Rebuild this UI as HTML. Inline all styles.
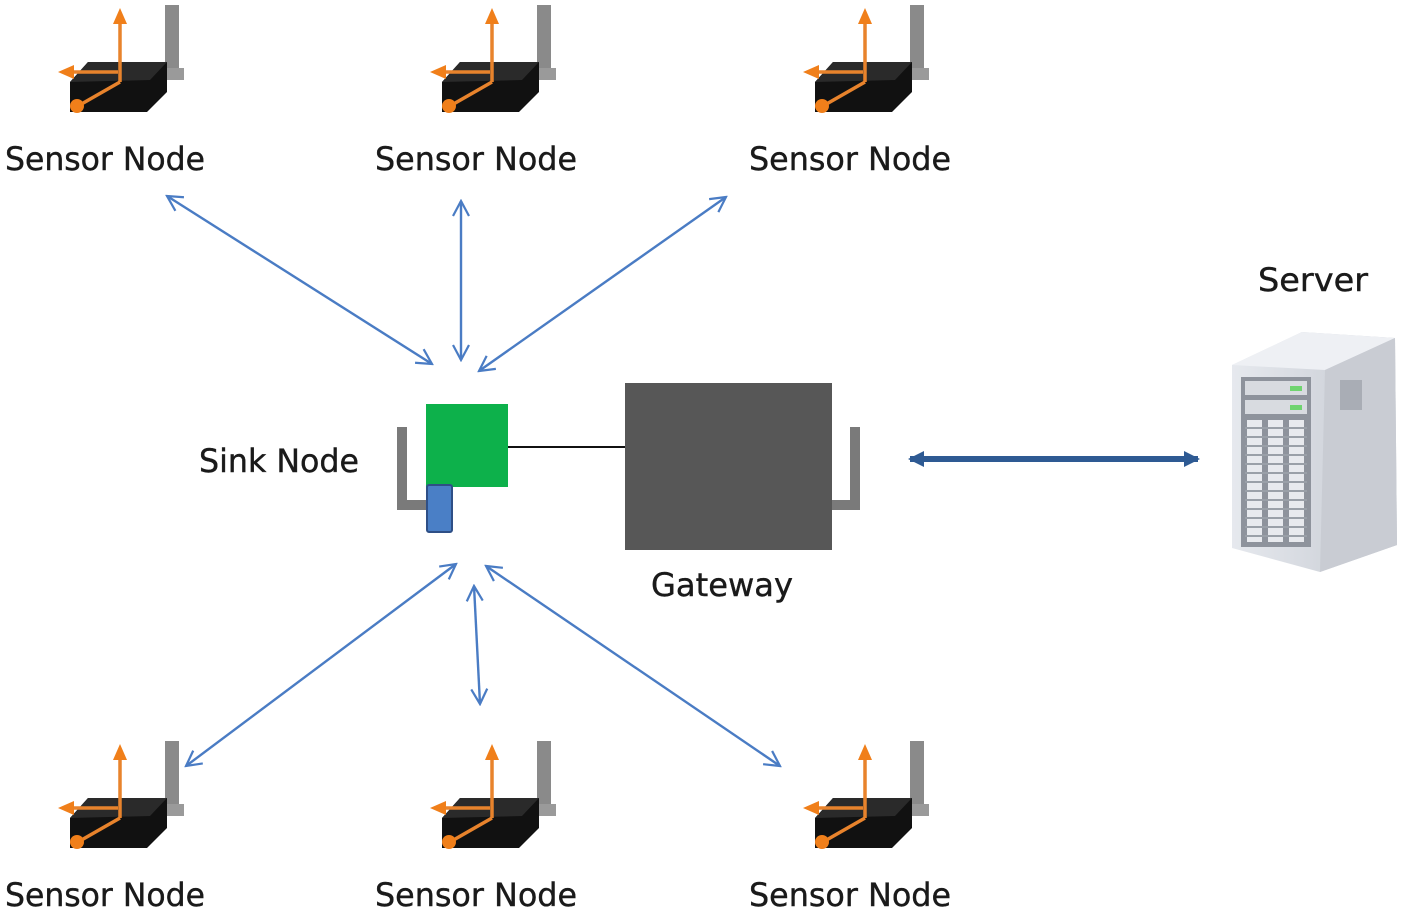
<!DOCTYPE html>
<html><head><meta charset="utf-8"><style>
html,body{margin:0;padding:0;background:#fff;}
svg{display:block;}
text{font-family:"DejaVu Sans","Liberation Sans",sans-serif;fill:#1a1a1a;stroke:#1a1a1a;stroke-width:0.4;}
</style></head><body>
<svg width="1418" height="911" viewBox="0 0 1418 911" xmlns="http://www.w3.org/2000/svg">
<defs>
<marker id="ab" markerWidth="18" markerHeight="18" refX="16" refY="9" orient="auto-start-reverse" markerUnits="userSpaceOnUse">
<path d="M1,1 L16,9 L1,17" fill="none" stroke="#4a7cc4" stroke-width="2.2"/>
</marker>
<marker id="ab2" markerWidth="22" markerHeight="16" refX="14" refY="8" orient="auto-start-reverse" markerUnits="userSpaceOnUse">
<path d="M0,0 L16,8 L0,16 Z" fill="#2e5a93"/>
</marker>
<marker id="ao" markerWidth="18" markerHeight="16" refX="8" refY="8" orient="auto" markerUnits="userSpaceOnUse">
<path d="M0,1 L16,8 L0,15 Z" fill="#f07f1a"/>
</marker>
<g id="sn">
<rect x="165" y="5" width="14" height="72" fill="#8a8a8a"/>
<rect x="150" y="68" width="34" height="12" fill="#9a9a9a"/>
<polygon points="88,62 167,62 167,92 147,112 70,112 70,82" fill="#111"/>
<polygon points="88,62 167,62 150,80 70,82" fill="#2a2a2a"/>
<line x1="120" y1="82" x2="120" y2="16" stroke="#e8832c" stroke-width="3.5" marker-end="url(#ao)"/>
<line x1="118" y1="72" x2="66" y2="72" stroke="#e8832c" stroke-width="3.5" marker-end="url(#ao)"/>
<line x1="120" y1="82" x2="78" y2="106" stroke="#e8832c" stroke-width="3.5"/>
<circle cx="77" cy="106" r="7" fill="#f07f1a"/>
</g>
</defs>

<use href="#sn"/>
<use href="#sn" x="372"/>
<use href="#sn" x="745"/>
<use href="#sn" y="736"/>
<use href="#sn" x="372" y="736"/>
<use href="#sn" x="745" y="736"/>

<g font-size="32">
<text x="5" y="170" textLength="200" lengthAdjust="spacingAndGlyphs">Sensor Node</text>
<text x="375" y="170" textLength="202" lengthAdjust="spacingAndGlyphs">Sensor Node</text>
<text x="749" y="170" textLength="202" lengthAdjust="spacingAndGlyphs">Sensor Node</text>
<text x="5" y="906" textLength="200" lengthAdjust="spacingAndGlyphs">Sensor Node</text>
<text x="375" y="906" textLength="202" lengthAdjust="spacingAndGlyphs">Sensor Node</text>
<text x="749" y="906" textLength="202" lengthAdjust="spacingAndGlyphs">Sensor Node</text>
<text x="199" y="472" textLength="160" lengthAdjust="spacingAndGlyphs">Sink Node</text>
<text x="651" y="596" textLength="142" lengthAdjust="spacingAndGlyphs">Gateway</text>
<text x="1258" y="291" textLength="110" lengthAdjust="spacingAndGlyphs">Server</text>
</g>

<g stroke="#4a7cc4" stroke-width="2.4" fill="none" marker-start="url(#ab)" marker-end="url(#ab)">
<line x1="167" y1="196" x2="432" y2="364"/>
<line x1="461" y1="201" x2="461" y2="360"/>
<line x1="726" y1="197" x2="479" y2="371"/>
<line x1="456" y1="564" x2="186" y2="766"/>
<line x1="474" y1="586" x2="480" y2="704"/>
<line x1="486" y1="566" x2="780" y2="766"/>
</g>
<line x1="910" y1="459" x2="1198" y2="459" stroke="#2e5a93" stroke-width="6" marker-start="url(#ab2)" marker-end="url(#ab2)"/>

<rect x="397" y="427" width="10" height="83" fill="#7a7a7a"/>
<rect x="397" y="500" width="32" height="10" fill="#7a7a7a"/>
<rect x="426" y="404" width="82" height="83" fill="#0db14b"/>
<rect x="427" y="485" width="25" height="47" rx="2" fill="#4a7fc6" stroke="#2e4f86" stroke-width="2"/>
<line x1="508" y1="447" x2="625" y2="447" stroke="#111" stroke-width="2"/>
<rect x="625" y="383" width="207" height="167" fill="#575757"/>
<rect x="850" y="427" width="10" height="83" fill="#7a7a7a"/>
<rect x="832" y="500" width="28" height="10" fill="#7a7a7a"/>

<linearGradient id="sg" x1="0" y1="0" x2="1" y2="0"><stop offset="0" stop-color="#e6e9ee"/><stop offset="1" stop-color="#c4c8d0"/></linearGradient>
<polygon points="1232,365 1302,332 1395,338 1397,545 1320,572 1232,548" fill="url(#sg)"/>
<polygon points="1232,365 1302,332 1395,338 1325,370" fill="#eef0f4"/>
<polygon points="1325,370 1395,338 1397,545 1320,572" fill="#c9ccd3"/>
<rect x="1340" y="380" width="22" height="30" fill="#a9adb5"/>
<rect x="1241" y="377" width="70" height="170" fill="#8e939c"/>
<rect x="1245" y="381" width="62" height="14" fill="#d8dbe0"/>
<rect x="1245" y="400" width="62" height="14" fill="#d8dbe0"/>
<rect x="1290" y="386" width="12" height="5" fill="#6fd46f"/>
<rect x="1290" y="405" width="12" height="5" fill="#6fd46f"/>
<g fill="#e8eaee">
<rect x="1247" y="420" width="15" height="122"/>
<rect x="1268" y="420" width="15" height="122"/>
<rect x="1289" y="420" width="15" height="122"/>
</g>
<g stroke="#9aa0a8" stroke-width="2">
<line x1="1245" y1="428" x2="1307" y2="428"/><line x1="1245" y1="437" x2="1307" y2="437"/>
<line x1="1245" y1="446" x2="1307" y2="446"/><line x1="1245" y1="455" x2="1307" y2="455"/>
<line x1="1245" y1="464" x2="1307" y2="464"/><line x1="1245" y1="473" x2="1307" y2="473"/>
<line x1="1245" y1="482" x2="1307" y2="482"/><line x1="1245" y1="491" x2="1307" y2="491"/>
<line x1="1245" y1="500" x2="1307" y2="500"/><line x1="1245" y1="509" x2="1307" y2="509"/>
<line x1="1245" y1="518" x2="1307" y2="518"/><line x1="1245" y1="527" x2="1307" y2="527"/>
<line x1="1245" y1="536" x2="1307" y2="536"/>
</g>
</svg>
</body></html>
